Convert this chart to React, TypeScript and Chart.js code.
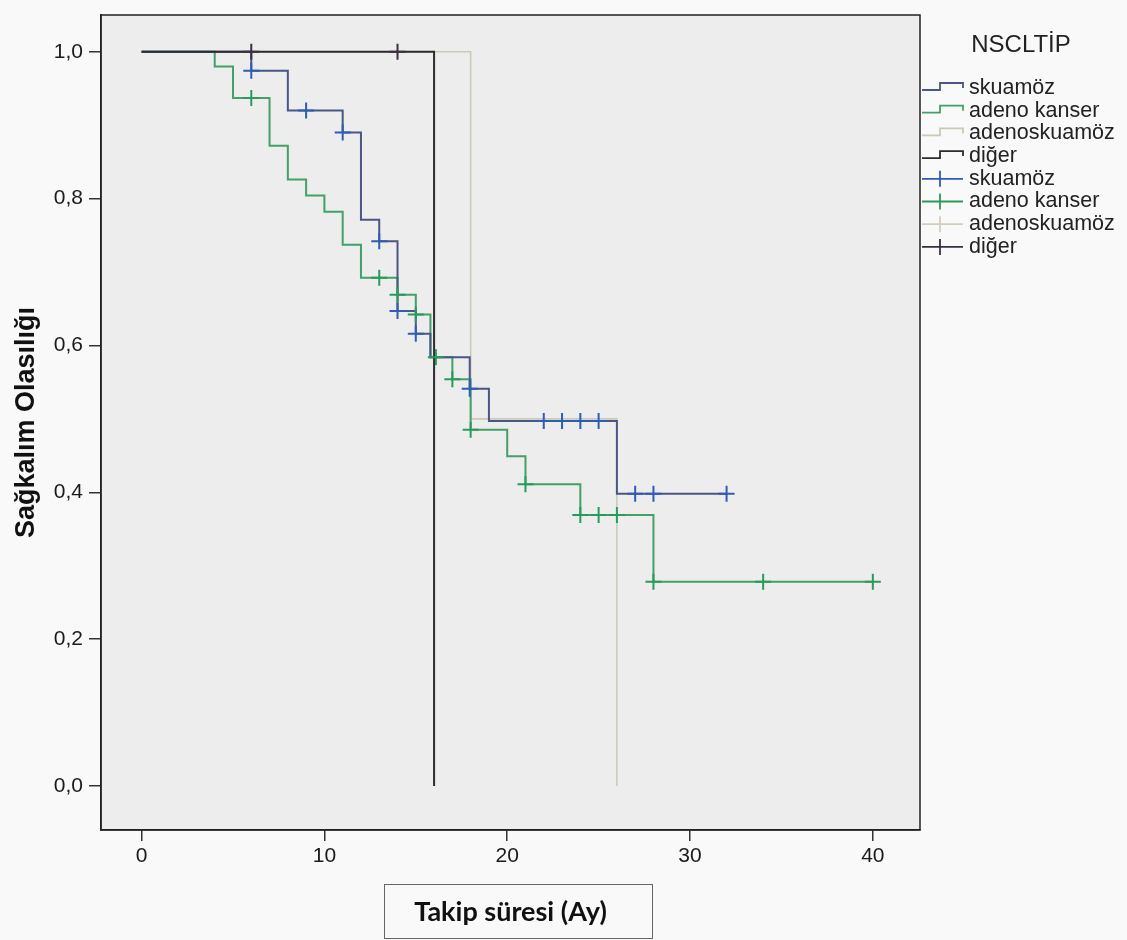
import { useEffect, useRef } from 'react';
import { Chart, registerables } from 'chart.js';

Chart.register(...registerables);

// ---- data ----
const X_TICKS = [0, 10, 20, 30, 40];
const Y_TICKS = [0, 0.2, 0.4, 0.6, 0.8, 1.0];
const GROUPS = ['skuamöz', 'adeno kanser', 'adenoskuamöz', 'diğer'];
const LEGEND_TITLE = 'NSCLTİP';
const X_TITLE = 'Takip süresi (Ay)';
const Y_TITLE = 'Sağkalım Olasılığı';

// skuamöz
const skuTimes = [0, 6.0, 8.0, 11.0, 12.0, 13.0, 14.0, 15.0, 15.8, 17.95, 19.0, 26.0, 32.0];
const skuSurv = [1, 0.974, 0.92, 0.89, 0.771, 0.742, 0.647, 0.616, 0.584, 0.541, 0.497, 0.398, 0.398];
const skuCensor = [6.0, 9.0, 11.0, 13.0, 14.0, 15.0, 17.95, 22.0, 23.0, 24.0, 25.0, 27.0, 28.0, 32.0];

// adeno kanser
const adeTimes = [0, 4.0, 5.0, 7.0, 8.0, 9.0, 10.0, 11.0, 12.0, 14.0, 15.0, 15.8, 17.0, 18.0, 20.0, 21.0, 24.0, 28.0, 40.0];
const adeSurv = [1, 0.98, 0.937, 0.872, 0.826, 0.804, 0.782, 0.737, 0.692, 0.669, 0.642, 0.584, 0.554, 0.485, 0.449, 0.411, 0.369, 0.278, 0.278];
const adeCensor = [6.0, 13.0, 14.0, 15.0, 16.1, 17.0, 18.0, 21.0, 24.0, 25.0, 26.0, 28.0, 34.0, 40.0];

// adenoskuamöz
const adsTimes = [0, 18.0, 26.0];
const adsSurv = [1, 0.5, 0];
const adsCensor: number[] = [];

// diğer
const digTimes = [0, 16.0];
const digSurv = [1, 0];
const digCensor = [6.0, 14.0];

// ---- styles ----
const LINE_COLORS = ['#4a5684', '#42a068', '#cacab8', '#2e2a2e'];
const CENSOR_COLORS = ['#2f5cb4', '#2a9a5c', '#cfcfbd', '#3a3040'];
const FONT = '"Liberation Sans", Arial, Helvetica, sans-serif';

const toPoints = (times: number[], surv: number[]) => times.map((t, i) => ({ x: t, y: surv[i] }));
const survAt = (times: number[], surv: number[], t: number) => {
  let s = surv[0];
  for (let i = 0; i < times.length; i++) if (times[i] <= t) s = surv[i];
  return s;
};
const censorPoints = (times: number[], surv: number[], cens: number[]) =>
  cens.map((t) => ({ x: t, y: survAt(times, surv, t) }));

const SERIES = [
  { times: skuTimes, surv: skuSurv, cens: skuCensor },
  { times: adeTimes, surv: adeSurv, cens: adeCensor },
  { times: adsTimes, surv: adsSurv, cens: adsCensor },
  { times: digTimes, surv: digSurv, cens: digCensor },
];
const LINE_ORDER = [2, 3, 4, 1];

const decorPlugin = {
  id: 'kmDecor',
  beforeDraw(chart: any) {
    const { ctx, chartArea: a, width, height } = chart;
    ctx.save();
    ctx.fillStyle = '#f9f9f9';
    ctx.fillRect(0, 0, width, height);
    ctx.fillStyle = '#ededed';
    ctx.fillRect(a.left, a.top, a.right - a.left, a.bottom - a.top);
    ctx.restore();
  },
  afterDraw(chart: any) {
    const { ctx, chartArea: a } = chart;
    ctx.save();
    // frame
    ctx.strokeStyle = '#222';
    ctx.lineWidth = 1.5;
    ctx.strokeRect(a.left, a.top, a.right - a.left, a.bottom - a.top);
    // box around x title
    ctx.strokeStyle = '#666';
    ctx.lineWidth = 1;
    ctx.strokeRect(384.5, 884.5, 268, 54);

    // legend
    const lx = a.right + 2;
    ctx.fillStyle = '#222';
    ctx.font = `24px ${FONT}`;
    ctx.textAlign = 'center';
    ctx.textBaseline = 'middle';
    ctx.fillText(LEGEND_TITLE, 1021, 45);
    ctx.font = `21.5px ${FONT}`;
    ctx.textAlign = 'left';
    const rowStart = 88;
    const rowStep = 22.7;
    GROUPS.forEach((g, i) => {
      const yc = rowStart + i * rowStep;
      ctx.strokeStyle = LINE_COLORS[i];
      ctx.lineWidth = 1.8;
      ctx.beginPath();
      ctx.moveTo(lx, yc + 2);
      ctx.lineTo(lx + 18, yc + 2);
      ctx.lineTo(lx + 18, yc - 5);
      ctx.lineTo(lx + 41, yc - 5);
      ctx.lineTo(lx + 41, yc);
      ctx.stroke();
      ctx.fillStyle = '#222';
      ctx.fillText(g, 969, yc);
    });
    GROUPS.forEach((g, i) => {
      const yc = rowStart + (i + 4) * rowStep;
      ctx.strokeStyle = CENSOR_COLORS[i];
      ctx.lineWidth = 1.8;
      ctx.beginPath();
      ctx.moveTo(lx, yc);
      ctx.lineTo(lx + 41, yc);
      ctx.moveTo(lx + 18, yc - 8);
      ctx.lineTo(lx + 18, yc + 8);
      ctx.stroke();
      ctx.fillStyle = '#222';
      ctx.fillText(g, 969, yc);
    });
    ctx.restore();
  },
};

export default function App() {
  const ref = useRef<HTMLCanvasElement | null>(null);
  useEffect(() => {
    if (!ref.current) return;
    const lineSets = SERIES.map((s, i) => ({
      label: GROUPS[i],
      data: toPoints(s.times, s.surv),
      stepped: 'before' as const,
      borderColor: LINE_COLORS[i],
      borderWidth: i === 2 ? 1.6 : 2,
      pointRadius: 0,
      fill: false,
      order: LINE_ORDER[i],
    }));
    const censorSets = SERIES.map((s, i) => ({
      label: GROUPS[i] + ' (censor)',
      data: censorPoints(s.times, s.surv, s.cens),
      showLine: false,
      pointStyle: 'cross' as const,
      pointRadius: 8,
      pointBorderWidth: 2,
      pointBorderColor: CENSOR_COLORS[i],
      borderColor: CENSOR_COLORS[i],
      order: 0,
    }));
    const chart = new Chart(ref.current, {
      type: 'line',
      data: { datasets: [...lineSets, ...censorSets] as any },
      options: {
        responsive: false,
        animation: false,
        layout: { padding: { left: 0, top: 15, right: 207, bottom: 0 } },
        plugins: { legend: { display: false }, tooltip: { enabled: false } },
        scales: {
          x: {
            type: 'linear',
            min: -2.22,
            max: 42.58,
            afterBuildTicks: (scale: any) => {
              scale.ticks = X_TICKS.map((v) => ({ value: v }));
            },
            afterFit: (scale: any) => {
              scale.height = 110;
            },
            grid: { drawOnChartArea: false, drawTicks: true, tickLength: 11, color: '#333', lineWidth: 1.5 },
            border: { display: true, color: '#222', width: 1.5 },
            ticks: { color: '#1a1a1a', font: { family: FONT, size: 21, lineHeight: 1.2 }, padding: 3, maxRotation: 0 },
            title: {
              display: true,
              text: X_TITLE,
              color: '#111',
              font: { family: 'Lato, "Open Sans", sans-serif', size: 27, weight: 'bold' },
              padding: { top: 0, bottom: 12 },
            },
          },
          y: {
            type: 'linear',
            min: -0.06,
            max: 1.05,
            afterBuildTicks: (scale: any) => {
              scale.ticks = Y_TICKS.map((v) => ({ value: v }));
            },
            afterFit: (scale: any) => {
              scale.width = 101;
            },
            grid: { drawOnChartArea: false, drawTicks: true, tickLength: 12, color: '#333', lineWidth: 1.5 },
            border: { display: true, color: '#222', width: 1.5 },
            ticks: {
              color: '#1a1a1a',
              font: { family: FONT, size: 21, lineHeight: 0.8 },
              padding: 6,
              callback: (v: any) => Number(v).toFixed(1).replace('.', ','),
            },
            title: {
              display: true,
              text: Y_TITLE,
              color: '#111',
              font: { family: FONT, size: 27, weight: 'bold' },
              padding: { top: 10, bottom: 0 },
            },
          },
        },
      },
      plugins: [decorPlugin],
    });
    return () => chart.destroy();
  }, []);
  return (
    <div style={{ position: 'fixed', left: 0, top: 0, width: 1127, height: 940 }}>
      <canvas ref={ref} width={1127} height={940} style={{ width: 1127, height: 940, display: 'block' }} />
    </div>
  );
}
